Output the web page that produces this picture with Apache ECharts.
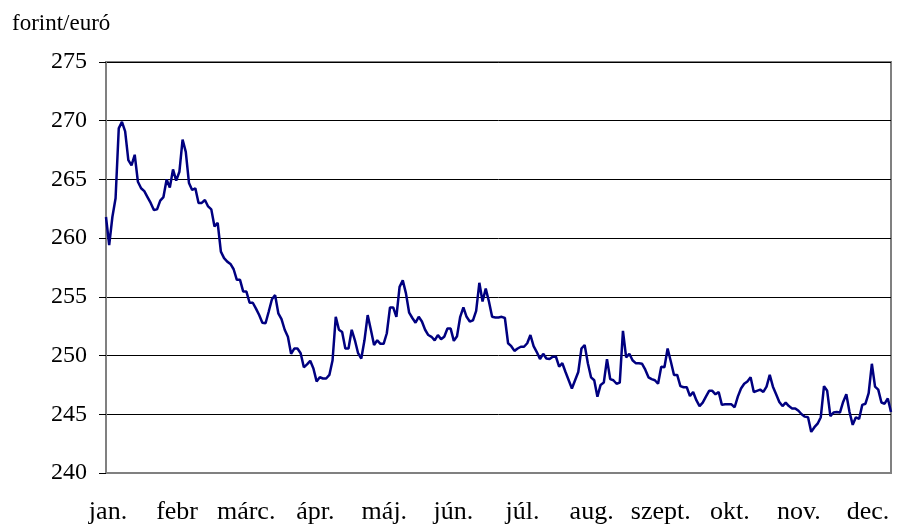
<!DOCTYPE html>
<html>
<head>
<meta charset="utf-8">
<script src="https://cdn.jsdelivr.net/npm/echarts@6/dist/echarts.min.js"></script>
<style>
html,body{margin:0;padding:0;background:#fff;}
#chart{width:899px;height:525px;}
</style>
</head>
<body>
<div id="chart"></div>
<script>
// Month labels shown under the axis
const months = ['jan.', 'febr', 'márc.', 'ápr.', 'máj.', 'jún.', 'júl.', 'aug.', 'szept.', 'okt.', 'nov.', 'dec.'];

// Y axis range / ticks
const yMin = 240, yMax = 275, yStep = 5;

// Daily EUR/HUF rates (forint/euró), in five stretches
const rates1 = [261.8, 259.4, 261.8, 263.4, 269.35, 269.9, 269.1, 266.65, 266.2, 267.1,
  264.8, 264.25, 264.0, 263.5, 263.0, 262.4, 262.45, 263.2, 263.5, 265.0,
  264.3, 265.85, 264.9, 265.65, 268.4, 267.35, 264.7, 264.1, 264.25, 263.0,
  263.0, 263.25, 262.7, 262.45, 261.0, 261.3, 258.85, 258.3, 258.0, 257.8,
  257.35, 256.45, 256.45, 255.45, 255.45, 254.5, 254.5, 254.0];
const rates2 = [253.45, 252.8, 252.75, 253.75, 254.8, 255.15, 253.6, 253.1, 252.2, 251.6,
  250.15, 250.6, 250.6, 250.2, 249.0, 249.25, 249.55, 248.9, 247.8, 248.15,
  248.05, 248.05, 248.35, 249.6, 253.3, 252.2, 252.0, 250.6, 250.6, 252.2,
  251.3, 250.2, 249.75, 251.3, 253.45, 252.2, 250.9, 251.3, 251.0, 251.0,
  251.9, 254.1, 254.1, 253.3, 255.85, 256.4, 255.3, 253.65, 253.2, 252.8,
  253.3, 252.9];
const rates3 = [252.2, 251.75, 251.6, 251.3, 251.75, 251.4, 251.6, 252.3, 252.3, 251.25,
  251.65, 253.3, 254.1, 253.3, 252.9, 253.0, 253.8, 256.2, 254.6, 255.7,
  254.6, 253.3, 253.25, 253.25, 253.3, 253.2, 251.05, 250.8, 250.4, 250.6,
  250.75, 250.75, 251.05, 251.75, 250.8, 250.3, 249.7, 250.15, 249.75, 249.7,
  249.9, 249.9, 249.05, 249.35, 248.6, 247.9, 247.2, 247.9, 248.6, 250.6,
  250.9];
const rates4 = [249.35, 248.15, 247.9, 246.5, 247.5, 247.7, 249.7, 248.0, 247.9, 247.6,
  247.7, 252.1, 249.85, 250.15, 249.6, 249.35, 249.35, 249.3, 248.8, 248.15,
  248.0, 247.9, 247.6, 249.05, 249.0, 250.6, 249.5, 248.35, 248.35, 247.4,
  247.3, 247.3, 246.55, 246.9, 246.2, 245.7, 246.0, 246.5, 247.0, 247.0,
  246.7, 246.9, 245.8, 245.85, 245.85, 245.85, 245.6, 246.5, 247.2, 247.6];
const rates5 = [247.8, 248.15, 246.9, 247.0, 247.1, 246.9, 247.35, 248.35, 247.35, 246.7,
  246.05, 245.7, 246.0, 245.7, 245.5, 245.5, 245.3, 245.0, 244.8, 244.75,
  243.5, 243.9, 244.2, 244.75, 247.4, 247.0, 244.85, 245.15, 245.2, 245.15,
  246.05, 246.7, 245.2, 244.1, 244.75, 244.6, 245.8, 245.9, 246.8, 249.3,
  247.35, 247.1, 246.0, 245.9, 246.35, 245.2];

const rates = [].concat(rates1, rates2, rates3, rates4, rates5);
const days = rates.map((_, i) => String(i + 1));

const chart = echarts.init(document.getElementById('chart'), null, {renderer: 'canvas'});
const serif = '"Liberation Serif", "Times New Roman", serif';

chart.setOption({
  animation: false,
  backgroundColor: '#ffffff',
  title: {
    text: 'forint/euró',
    left: 7, top: 7,
    textStyle: {fontFamily: serif, fontSize: 23, fontWeight: 'normal', color: '#000'}
  },
  grid: [
    {left: 106, right: 8, top: 62, bottom: 52, show: true, borderColor: '#808080', borderWidth: 2, containLabel: false},
    {left: 108, right: 31, top: 62, bottom: 52, show: false, containLabel: false}
  ],
  xAxis: [
    {
      type: 'category', gridIndex: 0, data: days, boundaryGap: false,
      axisLine: {show: true, lineStyle: {color: '#808080', width: 2}},
      axisTick: {show: false}, axisLabel: {show: false}, splitLine: {show: false}
    },
    {
      type: 'category', gridIndex: 1, data: months, boundaryGap: false,
      axisLine: {show: false}, axisTick: {show: false}, splitLine: {show: false},
      axisLabel: {show: true, interval: 0, margin: 29, fontFamily: serif, fontSize: 26, color: '#000'}
    }
  ],
  yAxis: [
    {
      type: 'value', gridIndex: 0, min: yMin, max: yMax, interval: yStep,
      axisLine: {show: true, lineStyle: {color: '#808080', width: 2}},
      axisTick: {show: true, inside: false, length: 7, lineStyle: {color: '#000', width: 1}},
      axisLabel: {margin: 19, fontFamily: serif, fontSize: 24, color: '#000'},
      splitLine: {show: true, lineStyle: {color: '#000', width: 1}}
    },
    {
      type: 'value', gridIndex: 1, show: false, min: 0, max: 1
    }
  ],
  series: [
    {
      type: 'line', xAxisIndex: 0, yAxisIndex: 0, data: rates,
      showSymbol: false, symbol: 'none',
      lineStyle: {color: '#000080', width: 2.5},
      z: 5
    }
  ]
});
</script>
</body>
</html>
